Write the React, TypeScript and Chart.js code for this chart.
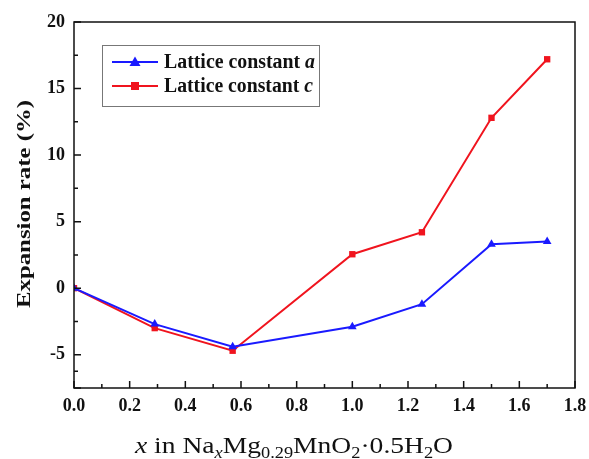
import React, { useEffect, useRef } from "react";
import { Chart, registerables } from "chart.js";

Chart.register(...registerables);

const xValues = [0, 0.29, 0.57, 1.0, 1.25, 1.5, 1.7];
const latticeA = [0, -2.7, -4.4, -2.9, -1.2, 3.3, 3.5];
const latticeC = [0, -3.0, -4.7, 2.55, 4.2, 12.8, 17.2];
const seriesNames = ["Lattice constant ", "Lattice constant "];
const seriesItalic = ["a", "c"];
const yTitle = "Expansion rate (%)";

const BLUE = "#1a1aff";
const RED = "#f0141e";
const SERIF = "'Liberation Serif', 'Times New Roman', serif";

function stretchedText(
  ctx: CanvasRenderingContext2D,
  parts: { t: string; font: string; dy: number }[],
  x: number,
  y: number,
  targetWidth: number
) {
  let total = 0;
  for (const p of parts) {
    ctx.font = p.font;
    total += ctx.measureText(p.t).width;
  }
  const sx = targetWidth / total;
  ctx.save();
  ctx.translate(x, y);
  ctx.scale(sx, 1);
  let cx = 0;
  for (const p of parts) {
    ctx.font = p.font;
    ctx.fillText(p.t, cx, p.dy);
    cx += ctx.measureText(p.t).width;
  }
  ctx.restore();
}

const decorPlugin = {
  id: "decor",
  afterDraw(chart: any) {
    const ctx = chart.ctx as CanvasRenderingContext2D;
    const { left, right, top, bottom } = chart.chartArea;
    const xs = chart.scales.x;
    const ys = chart.scales.y;
    ctx.save();
    // frame
    ctx.strokeStyle = "#111";
    ctx.lineWidth = 1.5;
    ctx.strokeRect(left, top, right - left, bottom - top);
    // ticks (inward)
    ctx.beginPath();
    const xt = xs.ticks.map((t: any) => t.value);
    for (let i = 0; i < xt.length; i++) {
      const px = xs.getPixelForValue(xt[i]);
      ctx.moveTo(px, bottom);
      ctx.lineTo(px, bottom - 7);
      if (i < xt.length - 1) {
        const pm = xs.getPixelForValue((xt[i] + xt[i + 1]) / 2);
        ctx.moveTo(pm, bottom);
        ctx.lineTo(pm, bottom - 4);
      }
    }
    const yt = ys.ticks.map((t: any) => t.value);
    for (let i = 0; i < yt.length; i++) {
      const py = ys.getPixelForValue(yt[i]);
      ctx.moveTo(left, py);
      ctx.lineTo(left + 7, py);
      if (i < yt.length - 1) {
        const pm = ys.getPixelForValue((yt[i] + yt[i + 1]) / 2);
        ctx.moveTo(left, pm);
        ctx.lineTo(left + 4, pm);
      }
    }
    ctx.stroke();

    // y title (rotated)
    ctx.fillStyle = "#111";
    ctx.save();
    ctx.translate(25, 308);
    ctx.rotate(-Math.PI / 2);
    ctx.textAlign = "left";
    ctx.textBaseline = "middle";
    stretchedText(ctx, [{ t: yTitle, font: `bold 18px ${SERIF}`, dy: 0 }], 0, 0, 208);
    ctx.restore();

    // x title with subscripts
    const big = `24px ${SERIF}`;
    const bigI = `italic 24px ${SERIF}`;
    const sm = `16px ${SERIF}`;
    const smI = `italic 16px ${SERIF}`;
    ctx.textAlign = "left";
    ctx.textBaseline = "alphabetic";
    stretchedText(
      ctx,
      [
        { t: "x", font: bigI, dy: 0 },
        { t: " in Na", font: big, dy: 0 },
        { t: "x", font: smI, dy: 5 },
        { t: "Mg", font: big, dy: 0 },
        { t: "0.29", font: sm, dy: 5 },
        { t: "MnO", font: big, dy: 0 },
        { t: "2", font: sm, dy: 5 },
        { t: "\u00b70.5H", font: big, dy: 0 },
        { t: "2", font: sm, dy: 5 },
        { t: "O", font: big, dy: 0 },
      ],
      135,
      453,
      318
    );

    // legend
    const lx = 102, ly = 45, lw = 217, lh = 61;
    ctx.fillStyle = "#fff";
    ctx.fillRect(lx, ly, lw, lh);
    ctx.strokeStyle = "#777";
    ctx.lineWidth = 1;
    ctx.strokeRect(lx + 0.5, ly + 0.5, lw, lh);
    const rows = [62, 86];
    const colors = [BLUE, RED];
    for (let i = 0; i < 2; i++) {
      const y = rows[i];
      ctx.strokeStyle = colors[i];
      ctx.lineWidth = 2;
      ctx.beginPath();
      ctx.moveTo(112, y);
      ctx.lineTo(158, y);
      ctx.stroke();
      ctx.fillStyle = colors[i];
      if (i === 0) {
        ctx.beginPath();
        ctx.moveTo(135, y - 5.5);
        ctx.lineTo(140.5, y + 4);
        ctx.lineTo(129.5, y + 4);
        ctx.closePath();
        ctx.fill();
      } else {
        ctx.fillRect(131, y - 4, 8, 8);
      }
      ctx.fillStyle = "#111";
      ctx.textBaseline = "middle";
      stretchedText(
        ctx,
        [
          { t: seriesNames[i], font: `bold 20px ${SERIF}`, dy: 0 },
          { t: seriesItalic[i], font: `bold italic 20px ${SERIF}`, dy: 0 },
        ],
        164,
        y + 1,
        i === 0 ? 151 : 149
      );
    }
    ctx.restore();
  },
};

export default function App() {
  const ref = useRef<HTMLCanvasElement | null>(null);
  useEffect(() => {
    if (!ref.current) return;
    const chart = new Chart(ref.current, {
      type: "line",
      data: {
        datasets: [
          {
            label: "Lattice constant a",
            data: xValues.map((x, i) => ({ x, y: latticeA[i] })),
            borderColor: BLUE,
            backgroundColor: BLUE,
            borderWidth: 2,
            pointStyle: "triangle",
            pointRadius: 5,
            pointBorderWidth: 0,
            tension: 0,
          },
          {
            label: "Lattice constant c",
            data: xValues.map((x, i) => ({ x, y: latticeC[i] })),
            borderColor: RED,
            backgroundColor: RED,
            borderWidth: 2,
            pointStyle: "rect",
            pointRadius: 4.5,
            pointBorderWidth: 0,
            tension: 0,
          },
        ],
      },
      options: {
        animation: false,
        responsive: false,
        maintainAspectRatio: false,
        layout: { padding: { top: 22, right: 14, left: 0, bottom: 0 } },
        plugins: { legend: { display: false }, tooltip: { enabled: false } },
        scales: {
          x: {
            type: "linear",
            min: 0,
            max: 1.8,
            border: { display: false },
            grid: { display: false, drawTicks: false },
            ticks: {
              stepSize: 0.2,
              padding: 8,
              color: "#111",
              font: { family: SERIF, size: 18, weight: "bold" },
              callback: (v: any) => Number(v).toFixed(1),
            },
            afterFit: (s: any) => {
              s.height = 71;
              s.paddingRight = 0;
              s.paddingLeft = 0;
            },
          },
          y: {
            min: -7.5,
            max: 20,
            border: { display: false },
            grid: { display: false, drawTicks: false },
            ticks: {
              stepSize: 5,
              padding: 9,
              color: "#111",
              font: { family: SERIF, size: 18, weight: "bold" },
              callback: (v: any) => (Number(v) % 5 === 0 ? String(v) : ""),
            },
            afterFit: (s: any) => {
              s.width = 74;
              s.paddingTop = 0;
              s.paddingBottom = 0;
            },
          },
        },
      },
      plugins: [decorPlugin],
    });
    return () => chart.destroy();
  }, []);
  return (
    <div style={{ position: "fixed", left: 0, top: 0, width: 589, height: 459, background: "#fff" }}>
      <canvas ref={ref} width={589} height={459} style={{ width: 589, height: 459 }} />
    </div>
  );
}
